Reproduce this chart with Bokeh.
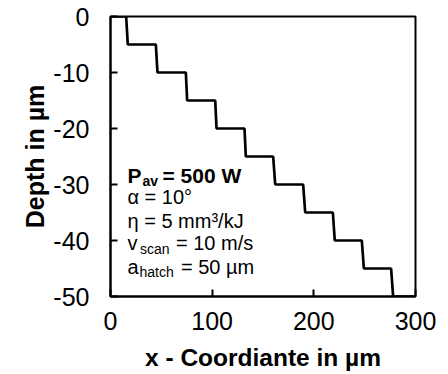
from bokeh.plotting import figure
from bokeh.models import Range1d, Label, FixedTicker
from bokeh.embed import file_html
from bokeh.resources import INLINE

# ---- data ----
depth_levels = [0, -5, -10, -15, -20, -25, -30, -35, -40, -45, -50]
step_x_top = [15.4, 44.6, 74.1, 103.0, 131.8, 160.0, 189.5, 218.7, 247.2, 276.0]
step_x_bottom = [17.0, 46.2, 75.4, 104.3, 133.1, 162.0, 191.5, 220.6, 249.2, 278.0]
x_start = 0
x_end = 300
x_ticks = [0, 100, 200, 300]
y_ticks = [0, -10, -20, -30, -40, -50]
x_title = "x - Coordiante in µm"
y_title = "Depth in µm"

xs = [x_start]
ys = [depth_levels[0]]
for i in range(len(step_x_top)):
    xs += [step_x_top[i], step_x_bottom[i]]
    ys += [depth_levels[i], depth_levels[i + 1]]
xs.append(x_end)
ys.append(depth_levels[-1])

FONT = "Liberation Sans"
W, H = 448, 374
FL, FR, FT, FB = 110, 415, 16, 296

p = figure(width=W, height=H, output_backend="svg", toolbar_location=None,
           x_range=Range1d(0, 300), y_range=Range1d(-50, 0),
           min_border_left=FL, min_border_right=W - FR,
           min_border_top=FT, min_border_bottom=H - FB)
p.grid.visible = False
p.background_fill_color = "white"
p.border_fill_color = "white"
p.outline_line_color = "black"
p.outline_line_width = 2
p.outline_line_alpha = 1

for ax, ticks in ((p.xaxis[0], x_ticks), (p.yaxis[0], y_ticks)):
    ax.ticker = FixedTicker(ticks=ticks)
    ax.major_label_overrides = {t: str(t) for t in ticks}
    ax.major_tick_in = 7
    ax.major_tick_out = 0
    ax.minor_tick_in = 0
    ax.minor_tick_out = 0
    ax.axis_line_width = 2
    ax.axis_line_color = "black"
    ax.major_tick_line_width = 2
    ax.major_tick_line_color = "black"
    ax.major_label_text_font = FONT
    ax.major_label_text_font_size = "25px"
    ax.major_label_text_color = "black"
    ax.axis_label_text_font = FONT
    ax.axis_label_text_font_style = "bold"
    ax.axis_label_text_color = "black"

p.xaxis.axis_label = x_title
p.yaxis.axis_label = y_title
p.xaxis.axis_label_text_font_size = "24.5px"
p.yaxis.axis_label_text_font_size = "25px"
p.xaxis.major_label_standoff = 15
p.xaxis.axis_label_standoff = 11
p.yaxis.major_label_standoff = 21
p.yaxis.axis_label_standoff = 1

p.line(xs, ys, line_width=2.7, line_color="black")


def px2x(px):
    return (px - FL) * 300.0 / (FR - FL)


def px2y(py):
    return -(py - FT) * 50.0 / (FB - FT)


MAIN = 20
SUB = 14
DY = -6.5


def lab(text, px, py, size, bold=False):
    p.add_layout(Label(x=px2x(px), y=px2y(py + DY), text=text, text_font=FONT,
                       text_font_size=f"{size}px",
                       text_font_style="bold" if bold else "normal",
                       text_color="black", text_baseline="alphabetic",
                       text_align="left"))


x0 = 127
# line 1: P_av = 500 W (bold)
lab("P", x0, 181.7, 21, True)
lab("av", 142, 186.5, SUB, True)
lab("= 500 W", 162, 181.7, 21, True)
# line 2
lab("α = 10°", x0, 202.7, MAIN)
# line 3
lab("η = 5 mm³/kJ", x0, 226.7, MAIN)
# line 4: v_scan = 10 m/s
lab("v", x0, 249.3, MAIN)
lab("scan", 139.5, 254.5, SUB)
lab("= 10 m/s", 175.5, 249.3, MAIN)
# line 5: a_hatch = 50 µm
lab("a", x0, 272.7, MAIN)
lab("hatch", 139, 277.5, SUB)
lab("= 50 µm", 180.5, 272.7, MAIN)

open("out.html", "w").write(file_html(p, INLINE))
